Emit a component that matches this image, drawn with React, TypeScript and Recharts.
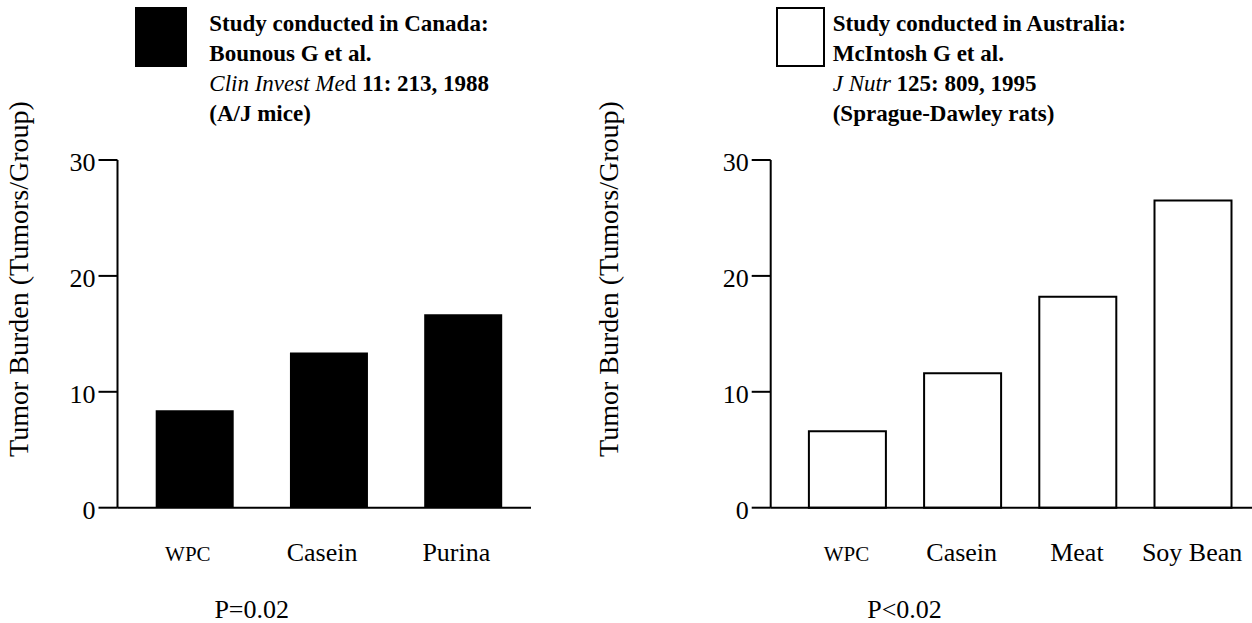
import React from 'react';
import { BarChart, Bar, XAxis, YAxis, Legend } from 'recharts';

const FONT = "'Liberation Serif', 'Times New Roman', Times, serif";

// Left study (Canada)
const canadaCategories = ['WPC', 'Casein', 'Purina'];
const canadaValues = [8.4, 13.4, 16.7];
// Right study (Australia)
const australiaCategories = ['WPC', 'Casein', 'Meat', 'Soy Bean'];
const australiaValues = [6.6, 11.6, 18.2, 26.5];

const yTicks = [0, 10, 20, 30];
const yLabel = 'Tumor Burden (Tumors/Group)';
const canadaP = 'P=0.02';
const australiaP = 'P<0.02';

const canadaData = canadaCategories.map((c, i) => ({ name: c, value: canadaValues[i] }));
const australiaData = australiaCategories.map((c, i) => ({ name: c, value: australiaValues[i] }));

const YTick = (props: any) => {
  const { x, y, payload } = props;
  return (
    <text x={x} y={y} dy={11} textAnchor="end" fontFamily={FONT} fontSize={26} fill="#000">
      {payload.value}
    </text>
  );
};

const makeXTick = (dx: number) => (props: any) => {
  const { x, y, payload } = props;
  const small = payload.value === 'WPC';
  return (
    <text x={x + dx} y={y + 53.5} textAnchor="middle" fontFamily={FONT} fontSize={small ? 21 : 26} fill="#000">
      {payload.value}
    </text>
  );
};

const yLabelContent = () => (
  <text
    x={27.5}
    y={279}
    transform="rotate(-90, 27.5, 279)"
    textAnchor="middle"
    fontFamily={FONT}
    fontSize={28}
    fill="#000"
  >
    {yLabel}
  </text>
);

const pLabel = (text: string, cx: number) => () => (
  <text x={cx} y={618} textAnchor="middle" fontFamily={FONT} fontSize={26} fill="#000">
    {text}
  </text>
);

const CanadaLegend = () => (
  <div style={{ position: 'relative', fontFamily: FONT, fontSize: 23, lineHeight: '30px', color: '#000', width: 460, height: 130 }}>
    <div style={{ position: 'absolute', left: 0, top: 0, width: 52, height: 59.5, background: '#000' }} />
    <div style={{ position: 'absolute', left: 74.3, top: 2, whiteSpace: 'nowrap' }}>
      <div style={{ fontWeight: 'bold' }}>Study conducted in Canada:</div>
      <div style={{ fontWeight: 'bold' }}>Bounous G et al.</div>
      <div>
        <i>Clin Invest Me</i>d <b>11: 213, 1988</b>
      </div>
      <div style={{ fontWeight: 'bold' }}>(A/J mice)</div>
    </div>
  </div>
);

const AustraliaLegend = () => (
  <div style={{ position: 'relative', fontFamily: FONT, fontSize: 23, lineHeight: '30px', color: '#000', width: 470, height: 130 }}>
    <div
      style={{
        position: 'absolute',
        left: 0,
        top: 0,
        width: 49,
        height: 60,
        background: '#fff',
        border: '2px solid #000',
        boxSizing: 'border-box',
      }}
    />
    <div style={{ position: 'absolute', left: 56.7, top: 2, whiteSpace: 'nowrap' }}>
      <div style={{ fontWeight: 'bold' }}>Study conducted in Australia:</div>
      <div style={{ fontWeight: 'bold' }}>McIntosh G et al.</div>
      <div>
        <i>J Nutr</i> <b>125: 809, 1995</b>
      </div>
      <div style={{ fontWeight: 'bold' }}>(Sprague-Dawley rats)</div>
    </div>
  </div>
);

export default function App() {
  return (
    <div style={{ position: 'absolute', left: 0, top: 0, width: 1252, height: 623, background: '#fff', overflow: 'hidden' }}>
      <div style={{ position: 'absolute', left: 0, top: 0 }}>
        <BarChart width={531} height={623} data={canadaData} margin={{ top: 160, right: 0, bottom: 55.3, left: 0 }}>
          <XAxis
            dataKey="name"
            height={60}
            padding={{ left: 10.2, right: 0.55 }}
            axisLine={{ stroke: '#000', strokeWidth: 2 }}
            tickLine={false}
            tickSize={0}
            tickMargin={0}
            tick={makeXTick(-7)}
            interval={0}
            label={{ value: canadaP, content: pLabel(canadaP, 251.7) }}
          />
          <YAxis
            width={117.5}
            domain={[0, 30]}
            ticks={yTicks}
            axisLine={{ stroke: '#000', strokeWidth: 2 }}
            tickLine={{ stroke: '#000', strokeWidth: 2 }}
            tickSize={19}
            tickMargin={3}
            tick={YTick}
            label={{ value: yLabel, content: yLabelContent }}
          />
          <Legend
            layout="horizontal"
            verticalAlign="middle"
            align="center"
            wrapperStyle={{ top: 7, left: 135, width: 460 }}
            content={CanadaLegend}
          />
          <Bar dataKey="value" fill="#000" barSize={78} isAnimationActive={false} />
        </BarChart>
      </div>
      <div style={{ position: 'absolute', left: 590, top: 0 }}>
        <BarChart width={662} height={623} data={australiaData} margin={{ top: 160, right: 0, bottom: 55.3, left: 0 }}>
          <XAxis
            dataKey="name"
            height={60}
            padding={{ left: 19.2, right: 1.3 }}
            axisLine={{ stroke: '#000', strokeWidth: 2 }}
            tickLine={false}
            tickSize={0}
            tickMargin={0}
            tick={makeXTick(-1)}
            interval={0}
            label={{ value: australiaP, content: pLabel(australiaP, 314.5) }}
          />
          <YAxis
            width={180.7}
            domain={[0, 30]}
            ticks={yTicks}
            axisLine={{ stroke: '#000', strokeWidth: 2 }}
            tickLine={{ stroke: '#000', strokeWidth: 2 }}
            tickSize={19}
            tickMargin={3}
            tick={YTick}
            label={{ value: yLabel, content: yLabelContent }}
          />
          <Legend
            layout="horizontal"
            verticalAlign="middle"
            align="center"
            wrapperStyle={{ top: 7, left: 186, width: 470 }}
            content={AustraliaLegend}
          />
          <Bar dataKey="value" fill="#fff" stroke="#000" strokeWidth={2} barSize={77} isAnimationActive={false} />
        </BarChart>
      </div>
    </div>
  );
}
